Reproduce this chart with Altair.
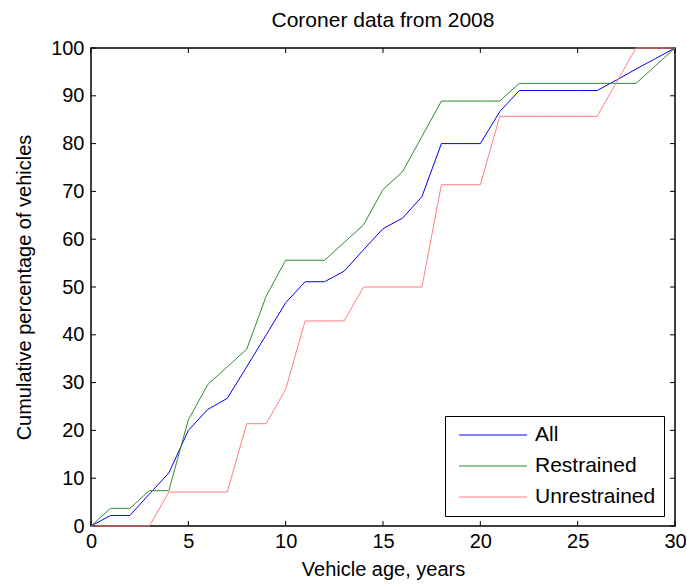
import altair as alt
import pandas as pd

years = list(range(0, 31))
all_pct = [0, 2.2, 2.2, 6.7, 11.1, 20, 24.4, 26.7, 33.3, 40, 46.7, 51.1, 51.1, 53.3,
           57.8, 62.2, 64.4, 68.9, 80, 80, 80, 86.7, 91.1, 91.1, 91.1, 91.1, 91.1,
           93.3, 95.6, 97.8, 100]
restrained = [0, 3.7, 3.7, 7.4, 7.4, 22.2, 29.6, 33.3, 37.0, 48.1, 55.6, 55.6, 55.6,
              59.3, 63.0, 70.4, 74.1, 81.5, 88.9, 88.9, 88.9, 88.9, 92.6, 92.6, 92.6,
              92.6, 92.6, 92.6, 92.6, 96.3, 100]
unrestrained = [0, 0, 0, 0, 7.1, 7.1, 7.1, 7.1, 21.4, 21.4, 28.6, 42.9, 42.9, 42.9,
                50, 50, 50, 50, 71.4, 71.4, 71.4, 85.7, 85.7, 85.7, 85.7, 85.7, 85.7,
                92.9, 100, 100, 100]
series_names = ["All", "Restrained", "Unrestrained"]
series_colors = ["#0000ff", "#2e8b2e", "#ff7f7f"]
x_ticks = [0, 5, 10, 15, 20, 25, 30]
y_ticks = [0, 10, 20, 30, 40, 50, 60, 70, 80, 90, 100]

W, H = 584, 478
FONT = "Liberation Sans"

rows = []
for name, vals in zip(series_names, [all_pct, restrained, unrestrained]):
    for yr, v in zip(years, vals):
        rows.append({"year": yr, "pct": v, "series": name})
df = pd.DataFrame(rows)

xscale = alt.Scale(domain=[0, 30], nice=False, zero=False)
yscale = alt.Scale(domain=[0, 100], nice=False, zero=False)

xt = pd.DataFrame({"t": x_ticks})
yt = pd.DataFrame({"t": y_ticks})
tick_style = dict(color="black", strokeWidth=1)
bx = alt.Chart(xt).mark_rule(**tick_style).encode(
    x=alt.X("t:Q", scale=xscale), y=alt.value(H), y2=alt.value(H - 5))
tx = alt.Chart(xt).mark_rule(**tick_style).encode(
    x=alt.X("t:Q", scale=xscale), y=alt.value(0), y2=alt.value(5))
ly = alt.Chart(yt).mark_rule(**tick_style).encode(
    y=alt.Y("t:Q", scale=yscale), x=alt.value(0), x2=alt.value(5))
ry = alt.Chart(yt).mark_rule(**tick_style).encode(
    y=alt.Y("t:Q", scale=yscale), x=alt.value(W), x2=alt.value(W - 5))

lines = alt.Chart(df).mark_line(strokeWidth=1, clip=False).encode(
    x=alt.X("year:Q", scale=xscale,
            axis=alt.Axis(values=x_ticks, title="Vehicle age, years", ticks=False,
                          domain=False, grid=False, labelFontSize=20, labelPadding=5,
                          titleFontSize=20, titlePadding=8, titleFontWeight="normal",
                          labelFlush=False)),
    y=alt.Y("pct:Q", scale=yscale,
            axis=alt.Axis(values=y_ticks, title="Cumulative percentage of vehicles",
                          ticks=False, domain=False, grid=False, labelFontSize=20,
                          labelPadding=7, titleFontSize=20, titlePadding=16,
                          titleFontWeight="normal", labelFlush=False)),
    color=alt.Color("series:N",
                    scale=alt.Scale(domain=series_names, range=series_colors),
                    legend=alt.Legend(title=None, orient="none", legendX=354, legendY=368,
                                      symbolType="stroke", symbolSize=4600,
                                      symbolStrokeWidth=1.2, labelFontSize=21,
                                      strokeColor="black", fillColor="white",
                                      padding=8, rowPadding=9, clipHeight=22,
                                      symbolOffset=5, labelOffset=7,
                                      labelLimit=300)),
    order=alt.Order("series:N"),
)

chart = alt.layer(bx, tx, ly, ry, lines).properties(
    width=W, height=H,
    title=alt.TitleParams("Coroner data from 2008", fontSize=21, fontWeight="normal",
                          font=FONT, anchor="middle", offset=7),
    autosize=alt.AutoSizeParams(type="none"),
    padding={"left": 91, "top": 48, "right": 12, "bottom": 60},
).configure(font=FONT, background="white").configure_view(
    stroke="black", strokeWidth=1.5
).configure_axis(labelColor="black", titleColor="black", labelFont=FONT, titleFont=FONT
).configure_legend(labelFont=FONT, labelColor="black")

chart.save("out.html", embed_options={"renderer": "svg", "actions": False})
